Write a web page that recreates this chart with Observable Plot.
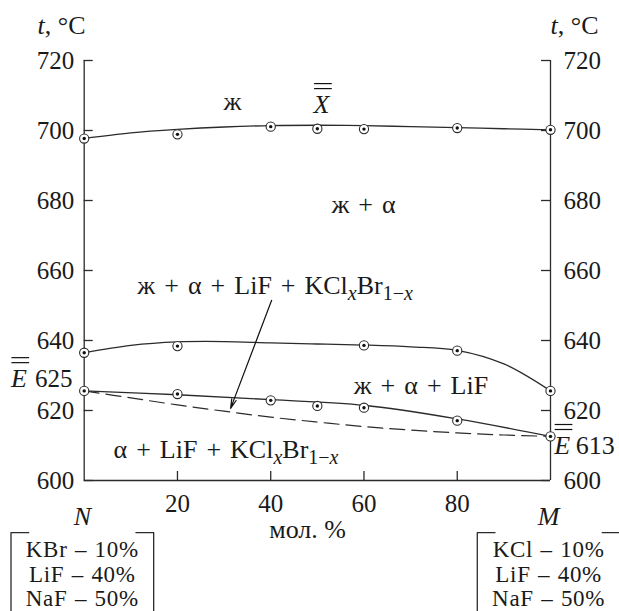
<!DOCTYPE html>
<html><head><meta charset="utf-8">
<script src="https://cdn.jsdelivr.net/npm/d3@7"></script>
<script src="https://cdn.jsdelivr.net/npm/@observablehq/plot@0.6"></script>
<style>
body{margin:0;background:#fff}
#chart{width:619px;height:611px}
#chart svg, #chart svg text, #chart svg tspan{font-family:"Liberation Serif","Times New Roman","DejaVu Serif",serif !important}
</style>
</head><body><div id="chart"></div>
<script>
// ---- data ----
const xTicks = [20, 40, 60, 80];
const yTicks = [600, 620, 640, 660, 680, 700, 720];

// measured points (mol. %, °C)
const liqX = [0, 20, 40, 50, 60, 80, 100];
const liqT = [697.7, 698.9, 701.1, 700.5, 700.4, 700.7, 700.2];
const midX = [0, 20, 60, 80, 100];
const midT = [636.5, 638.4, 638.6, 637.1, 625.6];
const solX = [0, 20, 40, 50, 60, 80, 100];
const solT = [625.6, 624.7, 622.9, 621.3, 620.8, 617.1, 612.6];

// drawn curves
const curveX = [0, 10, 20, 30, 40, 50, 60, 70, 80, 90, 100];
const liqCurve = [697.7, 699.3, 700.3, 701.0, 701.4, 701.5, 701.4, 701.1, 700.8, 700.5, 700.2];
const midCurve = [636.5, 638.6, 639.6, 639.7, 639.3, 639.0, 638.7, 638.2, 637.2, 633.3, 625.6];
const solCurveX = [0, 20, 40, 60, 80, 100];
const solCurve = [625.6, 624.5, 623.1, 621.5, 617.6, 612.6];
const dashCurve = [625.6, 623.6, 621.6, 619.8, 618.1, 616.7, 615.4, 614.4, 613.6, 613.0, 612.6];

// text labels (markup: *italic*, _{subscript})
const labelText = ["ж", "*X*", "ж + α", "ж + α + LiF + KCl_{x}Br_{1−x}", "ж + α + LiF",
  "α + LiF + KCl_{x}Br_{1−x}", "*E*", "625", "*E*", "613", "*t*, °C", "*t*, °C",
  "*N*", "*M*", "мол. %"];
const leftBox = ["KBr – 10%", "LiF – 40%", "NaF – 50%"];
const rightBox = ["KCl – 10%", "LiF – 40%", "NaF – 50%"];

// ---- annotation placement (data coordinates) ----
const labelX = [31.8, 50.9, 59.9, 11.4, 72.2, 6.3, -14.0, -2.5, 102.5, 105.4, -10.0, 100.0, -0.4, 99.6, 47.9];
const labelY = [708.3, 707.4, 678.9, 655.7, 627.1, 608.9, 629.1, 629.1, 610.0, 610.0, 730, 730, 589.7, 589.7, 585.9];
const labelAnchor = ["middle", "middle", "middle", "start", "middle", "start", "middle", "end", "middle", "start", "start", "start", "middle", "middle", "middle"];
const labelBar = [false, true, false, false, false, false, true, false, true, false, false, false, false, false, false];
const boxCenters = [-0.4, 99.6];
const boxLineY = [580.2, 573.2, 566.2];
const arrowFrom = [40.2, 651.5], arrowTo = [31.4, 620.6];

// ---- build tables ----
const S = "#2b2b2b";
const pts = (xs, ys) => xs.map((x, i) => ({x, t: ys[i]}));
const points = [...pts(liqX, liqT), ...pts(midX, midT), ...pts(solX, solT)];
const labels = labelText.map((text, i) => ({text, x: labelX[i], y: labelY[i], anchor: labelAnchor[i], bar: labelBar[i]}));
const bars = labels.filter(d => d.bar).map(d => ({x1: d.x - 1.9 + 0.4, x2: d.x + 1.9 + 0.4, y: d.y}));
const boxText = [
  ...leftBox.map((text, i) => ({text, x: boxCenters[0], y: boxLineY[i]})),
  ...rightBox.map((text, i) => ({text, x: boxCenters[1], y: boxLineY[i]}))
];
const halfW = 15.3, arm = 3.8, boxTop = 585.1, boxBottom = 555;
const brackets = [];
boxCenters.forEach((c, k) => {
  [[[c - halfW, boxBottom], [c - halfW, boxTop], [c - halfW + arm, boxTop]],
   [[c + halfW - arm, boxTop], [c + halfW, boxTop], [c + halfW, boxBottom]]]
  .forEach((seg, j) => seg.forEach(([x, y]) => brackets.push({x, y, id: k * 2 + j})));
});
const tickLenX = 9 / 4.663, tickLenY = 9 / 3.5;

const svg = Plot.plot({
  width: 619, height: 611,
  marginLeft: 83.7, marginRight: 69, marginTop: 60, marginBottom: 131,
  x: {domain: [0, 100]},
  y: {domain: [600, 720]},
  style: {fontFamily: "Liberation Serif", fontSize: "25px", color: "#1a1a1a", background: "white", overflow: "visible"},
  marks: [
    Plot.ruleX([0, 100], {y1: 600, y2: 720, stroke: S, strokeWidth: 1.3}),
    Plot.ruleY([600], {x1: 0, x2: 100, stroke: S, strokeWidth: 1.3}),
    Plot.ruleY(yTicks, {x1: 0, x2: tickLenX, stroke: S, strokeWidth: 1.3}),
    Plot.ruleY(yTicks, {x1: 100 - tickLenX, x2: 100, stroke: S, strokeWidth: 1.3}),
    Plot.ruleX(xTicks, {y1: 600, y2: 600 + tickLenY, stroke: S, strokeWidth: 1.3}),
    Plot.axisY(yTicks, {anchor: "left", tickSize: 0, tickPadding: 10, label: null, fontSize: 25}),
    Plot.axisY(yTicks, {anchor: "right", tickSize: 0, tickPadding: 13, label: null, fontSize: 25}),
    Plot.axisX(xTicks, {anchor: "bottom", tickSize: 0, tickPadding: 14, label: null, fontSize: 25}),
    Plot.line(pts(curveX, liqCurve), {x: "x", y: "t", curve: "catmull-rom", stroke: S, strokeWidth: 1.3}),
    Plot.line(pts(curveX, midCurve), {x: "x", y: "t", curve: "catmull-rom", stroke: S, strokeWidth: 1.3}),
    Plot.line(pts(solCurveX, solCurve), {x: "x", y: "t", curve: "catmull-rom", stroke: S, strokeWidth: 1.3}),
    Plot.line(pts(curveX, dashCurve), {x: "x", y: "t", curve: "catmull-rom", stroke: S, strokeWidth: 1.2, strokeDasharray: "15,7"}),
    Plot.arrow([{x1: arrowFrom[0], y1: arrowFrom[1], x2: arrowTo[0], y2: arrowTo[1]}],
      {x1: "x1", y1: "y1", x2: "x2", y2: "y2", stroke: "#111", strokeWidth: 1.2, headLength: 12, headAngle: 28}),
    Plot.dot(points, {x: "x", y: "t", r: 4.6, fill: "white", stroke: S, strokeWidth: 1.1}),
    Plot.dot(points, {x: "x", y: "t", r: 1.7, fill: "#111"}),
    Plot.text(labels.filter(d => d.anchor === "middle"), {x: "x", y: "y", text: "text", textAnchor: "middle", fontSize: 26}),
    Plot.text(labels.filter(d => d.anchor === "start"), {x: "x", y: "y", text: "text", textAnchor: "start", fontSize: 26}),
    Plot.text(labels.filter(d => d.anchor === "end"), {x: "x", y: "y", text: "text", textAnchor: "end", fontSize: 25}),
    Plot.ruleY(bars, {x1: "x1", x2: "x2", y: "y", dy: -21, stroke: "#111", strokeWidth: 1.2}),
    Plot.ruleY(bars, {x1: "x1", x2: "x2", y: "y", dy: -16, stroke: "#111", strokeWidth: 1.2}),
    Plot.text(boxText, {x: "x", y: "y", text: "text", textAnchor: "middle", fontSize: 23}),
    Plot.line(brackets, {x: "x", y: "y", z: "id", stroke: S, strokeWidth: 1.3})
  ]
});

// rich text: *italic* and _{subscript}; spacing like the typeset original
const NS = "http://www.w3.org/2000/svg";
function addSpan(parent, str, attrs) {
  const ts = document.createElementNS(NS, "tspan");
  for (const k in attrs) ts.setAttribute(k, attrs[k]);
  ts.textContent = str;
  parent.appendChild(ts);
  return ts;
}
const boxSet = new Set([...leftBox, ...rightBox]);
svg.querySelectorAll("text").forEach(t => {
  const s = t.textContent;
  if (boxSet.has(s)) { t.style.wordSpacing = "1px"; t.style.letterSpacing = "0.7px"; return; }
  if (s.includes(" + ")) t.style.wordSpacing = "2.5px";
  if (!/[*]|_\{/.test(s)) return;
  t.textContent = "";
  const re = /_\{([^}]*)\}|\*([^*]*)\*|([^_*]+)/g;
  let m, shifted = false;
  while ((m = re.exec(s))) {
    if (m[1] != null) {
      const sub = addSpan(t, "", shifted ? {"font-size": "20px"} : {"font-size": "20px", dy: 6});
      shifted = true;
      m[1].split(/(x)/).forEach(p => { if (p) addSpan(sub, p, p === "x" ? {"font-style": "italic"} : {}); });
    } else if (m[2] != null) {
      addSpan(t, m[2], Object.assign({"font-style": "italic"}, shifted ? {dy: -6} : {}));
      shifted = false;
    } else {
      addSpan(t, m[3], shifted ? {dy: -6} : {});
      shifted = false;
    }
  }
});
document.getElementById("chart").appendChild(svg);
</script>
</body></html>
